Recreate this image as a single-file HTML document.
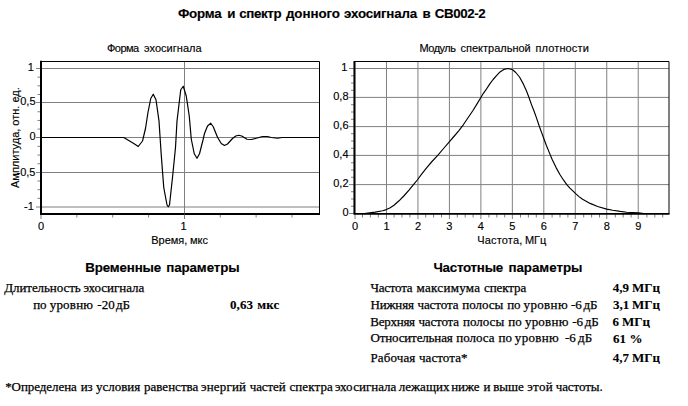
<!DOCTYPE html>
<html><head><meta charset="utf-8"><title>Форма и спектр донного эхосигнала</title>
<style>
html,body{margin:0;padding:0;background:#fff;}
svg{display:block}
.a{font-family:"Liberation Sans",Arial,sans-serif;fill:#000;stroke:#000;stroke-width:0.15px}
.t{font-family:"Liberation Serif","Times New Roman",serif;fill:#000;stroke:#000;stroke-width:0.25px}
.t.b{stroke-width:0.1px}
.b{font-weight:bold}
</style></head><body>
<svg width="688" height="406" viewBox="0 0 688 406">
<rect width="688" height="406" fill="#fff"/>
<text class="a b" x="177.95" y="17.6" font-size="13.33" textLength="43.76" lengthAdjust="spacing">Форма</text>
<text class="a b" x="227.25" y="17.6" font-size="13.33">и</text>
<text class="a b" x="239.20" y="17.6" font-size="13.33" textLength="42.49" lengthAdjust="spacing">спектр</text>
<text class="a b" x="285.95" y="17.6" font-size="13.33" textLength="53.99" lengthAdjust="spacing">донного</text>
<text class="a b" x="343.95" y="17.6" font-size="13.33" textLength="73.26" lengthAdjust="spacing">эхосигнала</text>
<text class="a b" x="422.62" y="17.6" font-size="13.33">в</text>
<text class="a b" x="434.70" y="17.6" font-size="13.33" textLength="51.01" lengthAdjust="spacing">СВ002-2</text>
<g id="left">
<text class="a" x="106.95" y="51.5" font-size="11" textLength="32.22" lengthAdjust="spacing">Форма</text>
<text class="a" x="143.95" y="51.5" font-size="11" textLength="57.72" lengthAdjust="spacing">эхосигнала</text>
<line x1="36" y1="68.5" x2="319.5" y2="68.5" stroke="#808080" stroke-width="1"/>
<line x1="36" y1="102.5" x2="319.5" y2="102.5" stroke="#808080" stroke-width="1"/>
<line x1="36" y1="137.5" x2="319.5" y2="137.5" stroke="#808080" stroke-width="1"/>
<line x1="36" y1="172.5" x2="319.5" y2="172.5" stroke="#808080" stroke-width="1"/>
<line x1="36" y1="207.0" x2="319.5" y2="207.0" stroke="#808080" stroke-width="1"/>
<line x1="184.5" y1="61" x2="184.5" y2="219" stroke="#808080" stroke-width="1"/>
<line x1="41" y1="60" x2="41" y2="219" stroke="#808080" stroke-width="1"/>
<line x1="37.5" y1="77.16" x2="41" y2="77.16" stroke="#808080" stroke-width="1"/>
<line x1="37.5" y1="85.81" x2="41" y2="85.81" stroke="#808080" stroke-width="1"/>
<line x1="37.5" y1="94.47" x2="41" y2="94.47" stroke="#808080" stroke-width="1"/>
<line x1="37.5" y1="111.78" x2="41" y2="111.78" stroke="#808080" stroke-width="1"/>
<line x1="37.5" y1="120.44" x2="41" y2="120.44" stroke="#808080" stroke-width="1"/>
<line x1="37.5" y1="129.09" x2="41" y2="129.09" stroke="#808080" stroke-width="1"/>
<line x1="37.5" y1="146.40" x2="41" y2="146.40" stroke="#808080" stroke-width="1"/>
<line x1="37.5" y1="155.06" x2="41" y2="155.06" stroke="#808080" stroke-width="1"/>
<line x1="37.5" y1="163.72" x2="41" y2="163.72" stroke="#808080" stroke-width="1"/>
<line x1="37.5" y1="181.03" x2="41" y2="181.03" stroke="#808080" stroke-width="1"/>
<line x1="37.5" y1="189.68" x2="41" y2="189.68" stroke="#808080" stroke-width="1"/>
<line x1="37.5" y1="198.34" x2="41" y2="198.34" stroke="#808080" stroke-width="1"/>
<line x1="76.85" y1="213" x2="76.85" y2="217.5" stroke="#808080" stroke-width="1"/>
<line x1="112.7" y1="213" x2="112.7" y2="217.5" stroke="#808080" stroke-width="1"/>
<line x1="148.55" y1="213" x2="148.55" y2="217.5" stroke="#808080" stroke-width="1"/>
<line x1="220.25" y1="213" x2="220.25" y2="217.5" stroke="#808080" stroke-width="1"/>
<line x1="256.1" y1="213" x2="256.1" y2="217.5" stroke="#808080" stroke-width="1"/>
<line x1="291.95000000000005" y1="213" x2="291.95000000000005" y2="217.5" stroke="#808080" stroke-width="1"/>
<path d="M41,137.5 L123.75,137.5 L128.75,140.5 L133.75,143.5 L138.25,146.5 L142.5,141 L145.5,128.5 L148,112.25 L150.75,98.5 L153.25,94.25 L156,99.75 L159,121 L161.25,155 L163.75,187.5 L167,205 L168.25,206.75 L169.5,205 L172.5,177.5 L175.5,147.5 L177,121 L180.75,89.75 L183.25,86.25 L186.25,96 L189.25,116 L191.25,139 L194.25,153.75 L197,158.25 L199.5,153.75 L203,140 L204.5,133.5 L207.5,126 L210.75,123.25 L213.25,126.75 L217.5,137.25 L221.25,143.5 L224.5,145.5 L227.5,144 L232.5,138.5 L235.75,136 L238.75,135.25 L241.75,136 L247,139.25 L251.25,139.5 L256.25,138.25 L262.5,136.5 L267.5,136.5 L271.25,137.5 L277.5,138.25 L282,137.5 L319.5,137.5" fill="none" stroke="#000" stroke-width="1.2" stroke-linejoin="round"/>
<path d="M41,61.5 H319.5 V214" fill="none" stroke="#000" stroke-width="1"/>
<path d="M41,61 V214 H320" fill="none" stroke="#000" stroke-width="2"/>
<line x1="184.5" y1="213" x2="184.5" y2="215" stroke="#808080" stroke-width="1" opacity="0.35"/>
<text class="a" x="33.8" y="70.9" font-size="11" text-anchor="end">1</text>
<text class="a" x="35.5" y="105.3" font-size="11" text-anchor="end">0,5</text>
<text class="a" x="35.5" y="139.8" font-size="11" text-anchor="end">0</text>
<text class="a" x="35.5" y="175.6" font-size="11" text-anchor="end">-0,5</text>
<text class="a" x="33.8" y="210.0" font-size="11" text-anchor="end">-1</text>
<text class="a" x="41" y="230" font-size="11" text-anchor="middle">0</text>
<text class="a" x="183.6" y="230" font-size="11" text-anchor="middle">1</text>
<text class="a" x="151.30" y="243.7" font-size="11" textLength="35.96" lengthAdjust="spacing">Время,</text>
<text class="a" x="190.00" y="243.7" font-size="11">мкс</text>
<text class="a" transform="translate(19.2,188) rotate(-90)" font-size="11">Амплитуда, отн. ед.</text>
</g>
<g id="right">
<text class="a" x="419.40" y="51.5" font-size="11" textLength="36.63" lengthAdjust="spacing">Модуль</text>
<text class="a" x="460.50" y="51.5" font-size="11" textLength="70.24" lengthAdjust="spacing">спектральной</text>
<text class="a" x="535.40" y="51.5" font-size="11" textLength="53.44" lengthAdjust="spacing">плотности</text>
<line x1="349" y1="213.50" x2="669" y2="213.50" stroke="#808080" stroke-width="1"/>
<line x1="349" y1="184.60" x2="669" y2="184.60" stroke="#808080" stroke-width="1"/>
<line x1="349" y1="155.40" x2="669" y2="155.40" stroke="#808080" stroke-width="1"/>
<line x1="349" y1="126.60" x2="669" y2="126.60" stroke="#808080" stroke-width="1"/>
<line x1="349" y1="97.40" x2="669" y2="97.40" stroke="#808080" stroke-width="1"/>
<line x1="349" y1="68.50" x2="669" y2="68.50" stroke="#808080" stroke-width="1"/>
<line x1="355.00" y1="61" x2="355.00" y2="219" stroke="#808080" stroke-width="1"/>
<line x1="386.47" y1="61" x2="386.47" y2="219" stroke="#808080" stroke-width="1"/>
<line x1="417.94" y1="61" x2="417.94" y2="219" stroke="#808080" stroke-width="1"/>
<line x1="449.41" y1="61" x2="449.41" y2="219" stroke="#808080" stroke-width="1"/>
<line x1="480.88" y1="61" x2="480.88" y2="219" stroke="#808080" stroke-width="1"/>
<line x1="512.35" y1="61" x2="512.35" y2="219" stroke="#808080" stroke-width="1"/>
<line x1="543.82" y1="61" x2="543.82" y2="219" stroke="#808080" stroke-width="1"/>
<line x1="575.29" y1="61" x2="575.29" y2="219" stroke="#808080" stroke-width="1"/>
<line x1="606.76" y1="61" x2="606.76" y2="219" stroke="#808080" stroke-width="1"/>
<line x1="638.23" y1="61" x2="638.23" y2="219" stroke="#808080" stroke-width="1"/>
<line x1="351" y1="75.75" x2="355" y2="75.75" stroke="#808080" stroke-width="1"/>
<line x1="351" y1="83.00" x2="355" y2="83.00" stroke="#808080" stroke-width="1"/>
<line x1="351" y1="90.25" x2="355" y2="90.25" stroke="#808080" stroke-width="1"/>
<line x1="351" y1="104.75" x2="355" y2="104.75" stroke="#808080" stroke-width="1"/>
<line x1="351" y1="112.00" x2="355" y2="112.00" stroke="#808080" stroke-width="1"/>
<line x1="351" y1="119.25" x2="355" y2="119.25" stroke="#808080" stroke-width="1"/>
<line x1="351" y1="133.75" x2="355" y2="133.75" stroke="#808080" stroke-width="1"/>
<line x1="351" y1="141.00" x2="355" y2="141.00" stroke="#808080" stroke-width="1"/>
<line x1="351" y1="148.25" x2="355" y2="148.25" stroke="#808080" stroke-width="1"/>
<line x1="351" y1="162.75" x2="355" y2="162.75" stroke="#808080" stroke-width="1"/>
<line x1="351" y1="170.00" x2="355" y2="170.00" stroke="#808080" stroke-width="1"/>
<line x1="351" y1="177.25" x2="355" y2="177.25" stroke="#808080" stroke-width="1"/>
<line x1="351" y1="191.75" x2="355" y2="191.75" stroke="#808080" stroke-width="1"/>
<line x1="351" y1="199.00" x2="355" y2="199.00" stroke="#808080" stroke-width="1"/>
<line x1="351" y1="206.25" x2="355" y2="206.25" stroke="#808080" stroke-width="1"/>
<line x1="362.50" y1="213" x2="362.50" y2="217.5" stroke="#808080" stroke-width="1"/>
<line x1="370.40" y1="213" x2="370.40" y2="217.5" stroke="#808080" stroke-width="1"/>
<line x1="378.30" y1="213" x2="378.30" y2="217.5" stroke="#808080" stroke-width="1"/>
<line x1="394.10" y1="213" x2="394.10" y2="217.5" stroke="#808080" stroke-width="1"/>
<line x1="402.00" y1="213" x2="402.00" y2="217.5" stroke="#808080" stroke-width="1"/>
<line x1="409.90" y1="213" x2="409.90" y2="217.5" stroke="#808080" stroke-width="1"/>
<line x1="425.70" y1="213" x2="425.70" y2="217.5" stroke="#808080" stroke-width="1"/>
<line x1="433.60" y1="213" x2="433.60" y2="217.5" stroke="#808080" stroke-width="1"/>
<line x1="441.50" y1="213" x2="441.50" y2="217.5" stroke="#808080" stroke-width="1"/>
<line x1="457.30" y1="213" x2="457.30" y2="217.5" stroke="#808080" stroke-width="1"/>
<line x1="465.20" y1="213" x2="465.20" y2="217.5" stroke="#808080" stroke-width="1"/>
<line x1="473.10" y1="213" x2="473.10" y2="217.5" stroke="#808080" stroke-width="1"/>
<line x1="488.90" y1="213" x2="488.90" y2="217.5" stroke="#808080" stroke-width="1"/>
<line x1="496.80" y1="213" x2="496.80" y2="217.5" stroke="#808080" stroke-width="1"/>
<line x1="504.70" y1="213" x2="504.70" y2="217.5" stroke="#808080" stroke-width="1"/>
<line x1="520.50" y1="213" x2="520.50" y2="217.5" stroke="#808080" stroke-width="1"/>
<line x1="528.40" y1="213" x2="528.40" y2="217.5" stroke="#808080" stroke-width="1"/>
<line x1="536.30" y1="213" x2="536.30" y2="217.5" stroke="#808080" stroke-width="1"/>
<line x1="552.10" y1="213" x2="552.10" y2="217.5" stroke="#808080" stroke-width="1"/>
<line x1="560.00" y1="213" x2="560.00" y2="217.5" stroke="#808080" stroke-width="1"/>
<line x1="567.90" y1="213" x2="567.90" y2="217.5" stroke="#808080" stroke-width="1"/>
<line x1="583.70" y1="213" x2="583.70" y2="217.5" stroke="#808080" stroke-width="1"/>
<line x1="591.60" y1="213" x2="591.60" y2="217.5" stroke="#808080" stroke-width="1"/>
<line x1="599.50" y1="213" x2="599.50" y2="217.5" stroke="#808080" stroke-width="1"/>
<line x1="615.30" y1="213" x2="615.30" y2="217.5" stroke="#808080" stroke-width="1"/>
<line x1="623.20" y1="213" x2="623.20" y2="217.5" stroke="#808080" stroke-width="1"/>
<line x1="631.10" y1="213" x2="631.10" y2="217.5" stroke="#808080" stroke-width="1"/>
<line x1="646.90" y1="213" x2="646.90" y2="217.5" stroke="#808080" stroke-width="1"/>
<line x1="654.80" y1="213" x2="654.80" y2="217.5" stroke="#808080" stroke-width="1"/>
<line x1="662.70" y1="213" x2="662.70" y2="217.5" stroke="#808080" stroke-width="1"/>
<path d="M364.4,213.6 L375.1,212.1 L382.7,210.8 L386.4,209.6 L390.2,207.7 L394,205.2 L399,200.8 L404,195.75 L409,190.1 L414.1,183.8 L417.3,180 L422,173.6 L427,167.3 L432,161.5 L437.5,155.6 L442.7,149.5 L449.5,141.6 L453.9,136.5 L458.9,130.6 L463.3,124.8 L467.7,118.3 L472.8,110.7 L477.8,102.6 L480.7,97.8 L483.4,93.3 L486,89.7 L490,83.6 L493.1,79.5 L496.3,75.8 L500,71.9 L503.8,69.4 L508.2,68.5 L512.6,69.7 L515.75,72.5 L519.5,77 L523.3,83.9 L526.4,90.8 L528.9,97.3 L531.5,104.6 L534,111 L536.4,117.6 L539.2,126.0 L542.1,133.9 L543.7,138.3 L546.3,145.3 L549.3,152.6 L552.3,159.8 L556.1,167.6 L559.9,174.5 L563.6,180.2 L566.8,184.6 L569.9,188.2 L573.1,191.2 L575.65,193.6 L579,196.6 L582.6,199.3 L590.1,203.4 L597.6,206.5 L606.7,209.1 L612.7,210.2 L620.25,211.4 L626.5,212.2 L638.5,212.9 L645.4,213.7" fill="none" stroke="#000" stroke-width="1.15" stroke-linejoin="round"/>
<path d="M354.4,61.5 H669 V213.9" fill="none" stroke="#000" stroke-width="1"/>
<path d="M354.4,61 V213.9 H669.5" fill="none" stroke="#000" stroke-width="1.9"/>
<text class="a" x="348.5" y="216.00" font-size="11" text-anchor="end">0</text>
<text class="a" x="348.5" y="187.10" font-size="11" text-anchor="end">0,2</text>
<text class="a" x="348.5" y="157.90" font-size="11" text-anchor="end">0,4</text>
<text class="a" x="348.5" y="129.10" font-size="11" text-anchor="end">0,6</text>
<text class="a" x="348.5" y="99.90" font-size="11" text-anchor="end">0,8</text>
<text class="a" x="347.3" y="71.00" font-size="11" text-anchor="end">1</text>
<text class="a" x="355.00" y="230" font-size="11" text-anchor="middle">0</text>
<text class="a" x="386.47" y="230" font-size="11" text-anchor="middle">1</text>
<text class="a" x="417.94" y="230" font-size="11" text-anchor="middle">2</text>
<text class="a" x="449.41" y="230" font-size="11" text-anchor="middle">3</text>
<text class="a" x="480.88" y="230" font-size="11" text-anchor="middle">4</text>
<text class="a" x="512.35" y="230" font-size="11" text-anchor="middle">5</text>
<text class="a" x="543.82" y="230" font-size="11" text-anchor="middle">6</text>
<text class="a" x="575.29" y="230" font-size="11" text-anchor="middle">7</text>
<text class="a" x="606.76" y="230" font-size="11" text-anchor="middle">8</text>
<text class="a" x="638.23" y="230" font-size="11" text-anchor="middle">9</text>
<text class="a" x="477.20" y="243.7" font-size="11" textLength="45.06" lengthAdjust="spacing">Частота,</text>
<text class="a" x="524.94" y="243.7" font-size="11">МГц</text>
</g>
<text class="a b" x="85.20" y="271.8" font-size="13.33" textLength="76.01" lengthAdjust="spacing">Временные</text>
<text class="a b" x="166.20" y="271.8" font-size="13.33" textLength="73.48" lengthAdjust="spacing">параметры</text>
<text class="t" x="4.20" y="292" font-size="13" textLength="76.53" lengthAdjust="spacing">Длительность</text>
<text class="t" x="83.45" y="292" font-size="13" textLength="60.87" lengthAdjust="spacing">эхосигнала</text>
<text class="t" x="33.15" y="309" font-size="13">по</text>
<text class="t" x="49.70" y="309" font-size="13" textLength="43.31" lengthAdjust="spacing">уровню</text>
<text class="t" x="97.34" y="309" font-size="13">-20</text>
<text class="t" x="115.94" y="309" font-size="13">дБ</text>
<text class="t b" x="229.95" y="308.9" font-size="13" textLength="23.10" lengthAdjust="spacing">0,63</text>
<text class="t b" x="257.36" y="308.9" font-size="13">мкс</text>
<text class="a b" x="433.45" y="271.8" font-size="13.33" textLength="69.76" lengthAdjust="spacing">Частотные</text>
<text class="a b" x="508.45" y="271.8" font-size="13.33" textLength="73.98" lengthAdjust="spacing">параметры</text>
<text class="t" x="370.45" y="291.9" font-size="13" textLength="42.12" lengthAdjust="spacing">Частота</text>
<text class="t" x="416.45" y="291.9" font-size="13" textLength="63.62" lengthAdjust="spacing">максимума</text>
<text class="t" x="483.95" y="291.9" font-size="13" textLength="42.37" lengthAdjust="spacing">спектра</text>
<text class="t" x="370.45" y="308.9" font-size="13" textLength="43.58" lengthAdjust="spacing">Нижняя</text>
<text class="t" x="417.40" y="308.9" font-size="13" textLength="41.17" lengthAdjust="spacing">частота</text>
<text class="t" x="462.20" y="308.9" font-size="13" textLength="41.13" lengthAdjust="spacing">полосы</text>
<text class="t" x="507.15" y="308.9" font-size="13">по</text>
<text class="t" x="523.60" y="308.9" font-size="13" textLength="44.01" lengthAdjust="spacing">уровню</text>
<text class="t" x="570.89" y="308.9" font-size="13">-6</text>
<text class="t" x="583.49" y="308.9" font-size="13">дБ</text>
<text class="t" x="370.30" y="325.8" font-size="13" textLength="44.78" lengthAdjust="spacing">Верхняя</text>
<text class="t" x="418.45" y="325.8" font-size="13" textLength="40.62" lengthAdjust="spacing">частота</text>
<text class="t" x="462.95" y="325.8" font-size="13" textLength="41.18" lengthAdjust="spacing">полосы</text>
<text class="t" x="508.22" y="325.8" font-size="13">по</text>
<text class="t" x="524.90" y="325.8" font-size="13" textLength="43.51" lengthAdjust="spacing">уровню</text>
<text class="t" x="572.14" y="325.8" font-size="13">-6</text>
<text class="t" x="584.64" y="325.8" font-size="13">дБ</text>
<text class="t" x="370.45" y="341.8" font-size="13" textLength="82.33" lengthAdjust="spacing">Относительная</text>
<text class="t" x="456.30" y="341.8" font-size="13" textLength="38.27" lengthAdjust="spacing">полоса</text>
<text class="t" x="498.52" y="341.8" font-size="13">по</text>
<text class="t" x="514.80" y="341.8" font-size="13" textLength="43.96" lengthAdjust="spacing">уровню</text>
<text class="t" x="564.96" y="341.8" font-size="13">-6</text>
<text class="t" x="578.09" y="341.8" font-size="13">дБ</text>
<text class="t" x="370.45" y="362" font-size="13" textLength="44.83" lengthAdjust="spacing">Рабочая</text>
<text class="t" x="418.95" y="362" font-size="13" textLength="48.60" lengthAdjust="spacing">частота*</text>
<text class="t b" x="612.83" y="291.8" font-size="13">4,9</text>
<text class="t b" x="631.98" y="291.8" font-size="13">МГц</text>
<text class="t b" x="612.88" y="308.9" font-size="13">3,1</text>
<text class="t b" x="631.98" y="308.9" font-size="13">МГц</text>
<text class="t b" x="612.50" y="325.8" font-size="13">6</text>
<text class="t b" x="621.93" y="325.8" font-size="13">МГц</text>
<text class="t b" x="613.08" y="342.6" font-size="13">61</text>
<text class="t b" x="629.62" y="342.6" font-size="13">%</text>
<text class="t b" x="612.83" y="362.3" font-size="13">4,7</text>
<text class="t b" x="631.98" y="362.3" font-size="13">МГц</text>
<text class="t" x="5.20" y="390.8" font-size="13" textLength="71.62" lengthAdjust="spacing">*Определена</text>
<text class="t" x="80.65" y="390.8" font-size="13">из</text>
<text class="t" x="95.95" y="390.8" font-size="13" textLength="44.33" lengthAdjust="spacing">условия</text>
<text class="t" x="143.95" y="390.8" font-size="13" textLength="54.42" lengthAdjust="spacing">равенства</text>
<text class="t" x="201.00" y="390.8" font-size="13" textLength="45.01" lengthAdjust="spacing">энергий</text>
<text class="t" x="249.70" y="390.8" font-size="13" textLength="36.06" lengthAdjust="spacing">частей</text>
<text class="t" x="289.40" y="390.8" font-size="13" textLength="43.47" lengthAdjust="spacing">спектра</text>
<text class="t" x="335.06" y="390.8" font-size="13">эхо</text>
<text class="t" x="353.20" y="390.8" font-size="13" textLength="43.12" lengthAdjust="spacing">сигнала</text>
<text class="t" x="398.70" y="390.8" font-size="13" textLength="50.80" lengthAdjust="spacing">лежащих</text>
<text class="t" x="451.20" y="390.8" font-size="13" textLength="28.37" lengthAdjust="spacing">ниже</text>
<text class="t" x="483.38" y="390.8" font-size="13">и</text>
<text class="t" x="493.20" y="390.8" font-size="13" textLength="30.62" lengthAdjust="spacing">выше</text>
<text class="t" x="527.20" y="390.8" font-size="13" textLength="25.56" lengthAdjust="spacing">этой</text>
<text class="t" x="555.70" y="390.8" font-size="13" textLength="47.05" lengthAdjust="spacing">частоты.</text>
</svg>
</body></html>
